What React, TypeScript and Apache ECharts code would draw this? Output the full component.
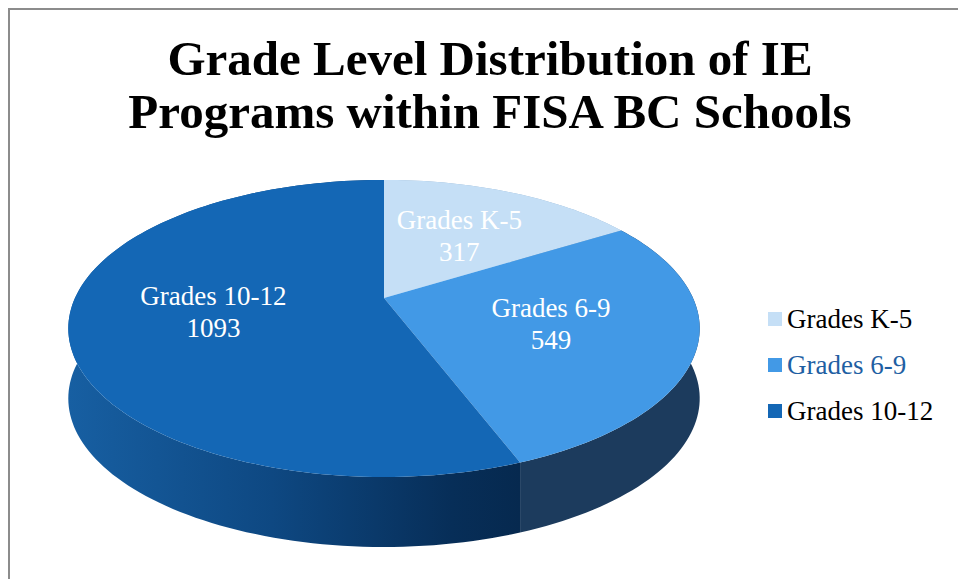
import React, { useEffect, useRef } from "react";
import * as echarts from "echarts";

const titleLines = ["Grade Level Distribution of IE", "Programs within FISA BC Schools"];
const categories = ["Grades K-5", "Grades 6-9", "Grades 10-12"];
const values = [317, 549, 1093];
const topColors = ["#c5dff6", "#4299e6", "#1467b5"];
const legendTextColors = ["#000000", "#1f5fa3", "#000000"];

const FONT = "'Liberation Serif', 'Times New Roman', serif";

// geometry of the projected (3D-looking) pie
const GEO = { cx: 384, cy: 298, rx: 309, ry: 142.3, k: -0.205, depth: 70 };

const total = values.reduce((s, v) => s + v, 0);
const startAngles: number[] = [];
{
  let acc = 0;
  values.forEach((v) => {
    startAngles.push((acc / total) * Math.PI * 2);
    acc += v;
  });
}

function proj(theta: number, r: number, down: boolean) {
  const u = r * Math.sin(theta);
  const v = -r * Math.cos(theta);
  const den = 1 + GEO.k * v;
  const x = GEO.cx + (GEO.rx * u) / den;
  let y = GEO.cy + (GEO.ry * v) / den;
  if (down) y += GEO.depth;
  return [x, y];
}

function arc(t1: number, t2: number, down: boolean) {
  const n = Math.max(2, Math.ceil((Math.abs(t2 - t1) / (Math.PI * 2)) * 240));
  const pts: number[][] = [];
  for (let i = 0; i <= n; i++) {
    const t = t1 + ((t2 - t1) * i) / n;
    pts.push(proj(t, 1, down));
  }
  return pts;
}

function sweep(i: number) {
  const t1 = startAngles[i];
  const t2 = t1 + (values[i] / total) * Math.PI * 2;
  return [t1, t2];
}

const sideFills: any[] = [
  "#8fb0cf",
  "#1c3b5d",
  new echarts.graphic.LinearGradient(0, 0, 1, 0, [
    { offset: 0, color: "#175fa2" },
    { offset: 0.45, color: "#0e4882" },
    { offset: 0.85, color: "#072e58" },
    { offset: 1, color: "#06294f" },
  ]),
];

function renderSide(params: any, api: any) {
  const i = params.dataIndex;
  const [t1, t2] = sweep(i);
  const top = arc(t1, t2, false);
  const bottom = arc(t2, t1, true);
  return {
    type: "polygon",
    shape: { points: top.concat(bottom) },
    style: { fill: sideFills[i], stroke: null },
    silent: true,
  };
}

function makeTop(i: number) {
  return function (params: any, api: any) {
    const [t1, t2] = sweep(i);
    const pts = [[GEO.cx, GEO.cy]].concat(arc(t1, t2, false));
    const mid = (t1 + t2) / 2;
    const [lx, ly] = proj(mid, 0.55, false);
    return {
      type: "group",
      children: [
        {
          type: "polygon",
          shape: { points: pts },
          style: { fill: topColors[i], stroke: null },
        },
        {
          type: "text",
          x: lx,
          y: ly,
          style: {
            text: categories[i] + "\n" + api.value(0),
            fill: "#ffffff",
            fontFamily: FONT,
            fontSize: 27,
            lineHeight: 32,
            align: "center",
            verticalAlign: "middle",
          },
        },
      ],
    };
  };
}

export default function App() {
  const ref = useRef<HTMLDivElement>(null);
  useEffect(() => {
    document.body.style.margin = "0";
    if (!ref.current) return;
    const chart = echarts.init(ref.current, undefined, { renderer: "svg" });
    const option: any = {
      animation: false,
      backgroundColor: "#ffffff",
      legend: {
        orient: "vertical",
        left: 768,
        top: 305,
        padding: 0,
        itemWidth: 14,
        itemHeight: 14,
        itemGap: 18,
        icon: "rect",
        selectedMode: false,
        textStyle: { fontFamily: FONT, fontSize: 27, lineHeight: 28, color: "#000" },
        data: categories.map((c, i) => ({ name: c, textStyle: { color: legendTextColors[i] } })),
      },
      graphic: [
        {
          type: "rect",
          shape: { x: 9, y: 9, width: 2000, height: 2000 },
          style: { fill: "none", stroke: "#8c8c8c", lineWidth: 2 },
          silent: true,
        },
        {
          type: "text",
          x: 490,
          y: 32,
          style: {
            text: titleLines.join("\n"),
            fontFamily: FONT,
            fontWeight: "bold",
            fontSize: 49,
            lineHeight: 53,
            fill: "#000",
            align: "center",
            verticalAlign: "top",
          },
        },
      ],
      series: [
        {
          type: "custom",
          name: "side",
          coordinateSystem: "none",
          z: 1,
          silent: true,
          renderItem: renderSide,
          data: values.map((v) => [v]),
        },
        ...categories.map((c, i) => ({
          type: "custom",
          name: c,
          coordinateSystem: "none",
          z: 2,
          silent: true,
          itemStyle: { color: topColors[i] },
          renderItem: makeTop(i),
          data: [[values[i]]],
        })),
      ],
    };
    chart.setOption(option);
    return () => chart.dispose();
  }, []);
  return <div ref={ref} style={{ width: 958, height: 579 }} />;
}
